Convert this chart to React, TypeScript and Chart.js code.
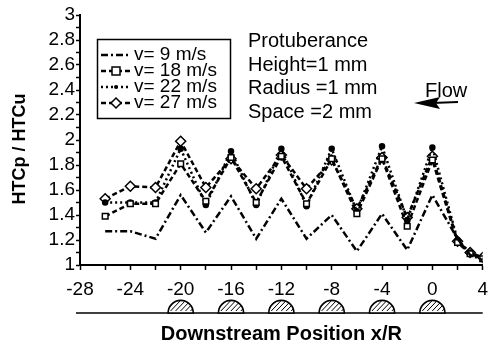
import React, { useEffect, useRef } from 'react';
import { Chart, registerables } from 'chart.js';

Chart.register(...registerables);

const FONT = '"Liberation Sans", Arial, Helvetica, sans-serif';

// Downstream positions x/R where the measurements sit
const xPositions = [-26, -24, -22, -20, -18, -16, -14, -12, -10, -8, -6, -4, -2, 0, 2, 3, 4];

// HTCp / HTCu for each velocity
const v9 = [1.27, 1.27, 1.21, 1.56, 1.26, 1.55, 1.21, 1.53, 1.21, 1.4, 1.11, 1.41, 1.12, 1.56, 1.21, 1.08, 1.04];
const v18 = [1.39, 1.49, 1.49, 1.81, 1.51, 1.86, 1.5, 1.87, 1.49, 1.85, 1.41, 1.85, 1.31, 1.84, 1.18, 1.09, 1.05];
const v22 = [1.5, 1.5, 1.5, 1.93, 1.48, 1.91, 1.48, 1.93, 1.47, 1.93, 1.43, 1.95, 1.36, 1.94, 1.2, 1.1, 1.05];
const v27 = [1.53, 1.63, 1.62, 1.99, 1.62, 1.85, 1.61, 1.88, 1.61, 1.84, 1.45, 1.86, 1.38, 1.87, 1.19, 1.1, 1.06];

const seriesLabels = ['v= 9 m/s', 'v= 18 m/s', 'v= 22 m/s', 'v= 27 m/s'];

// Protuberance centres (x/R) sketched under the axis
const protuberances = [-20, -16, -12, -8, -4, 0];

const noteLines = ['Protuberance', 'Height=1 mm', 'Radius =1 mm', 'Space =2 mm'];
const flowLabel = 'Flow';
const xTitle = 'Downstream Position x/R';
const yTitle = 'HTCp / HTCu';

function drawMarker(ctx: CanvasRenderingContext2D, style: string, r: number, x: number, y: number) {
  if (!style || r <= 0) return;
  ctx.save();
  ctx.setLineDash([]);
  ctx.lineWidth = 1.5;
  ctx.strokeStyle = '#000';
  ctx.beginPath();
  if (style === 'rect') {
    ctx.rect(x - r, y - r, 2 * r, 2 * r);
    ctx.fillStyle = '#fff';
    ctx.fill();
    ctx.stroke();
  } else if (style === 'rectRot') {
    ctx.moveTo(x, y - r);
    ctx.lineTo(x + r, y);
    ctx.lineTo(x, y + r);
    ctx.lineTo(x - r, y);
    ctx.closePath();
    ctx.fillStyle = '#fff';
    ctx.fill();
    ctx.stroke();
  } else {
    ctx.arc(x, y, r, 0, Math.PI * 2);
    ctx.fillStyle = '#000';
    ctx.fill();
  }
  ctx.restore();
}

const decor = {
  id: 'decor',
  afterDraw(chart: any) {
    const { ctx } = chart;
    const xs = chart.scales.x;
    ctx.save();

    // y-axis title
    ctx.save();
    ctx.translate(20, 149);
    ctx.rotate(-Math.PI / 2);
    ctx.font = `bold 18px ${FONT}`;
    ctx.fillStyle = '#000';
    ctx.textAlign = 'center';
    ctx.textBaseline = 'middle';
    ctx.fillText(yTitle, 0, 0);
    ctx.restore();

    // legend box
    ctx.strokeStyle = '#000';
    ctx.lineWidth = 1.5;
    ctx.setLineDash([]);
    ctx.strokeRect(97.5, 39.5, 133, 79);
    const rows = [55, 71, 87, 103];
    ctx.font = `19px ${FONT}`;
    ctx.fillStyle = '#000';
    ctx.textBaseline = 'middle';
    ctx.textAlign = 'left';
    chart.data.datasets.forEach((ds: any, i: number) => {
      const y = rows[i];
      ctx.save();
      ctx.strokeStyle = '#000';
      ctx.lineWidth = ds.borderWidth;
      ctx.setLineDash(ds.borderDash || []);
      ctx.beginPath();
      ctx.moveTo(101, y);
      ctx.lineTo(131, y);
      ctx.stroke();
      ctx.restore();
      drawMarker(ctx, ds.pointStyle, ds.pointRadius, 116, y);
      ctx.fillText(ds.label, 134, y);
    });

    // annotation
    ctx.font = `20px ${FONT}`;
    const noteY = [41, 65, 88, 112];
    noteLines.forEach((t, i) => ctx.fillText(t, 248, noteY[i]));

    // flow arrow
    ctx.fillText(flowLabel, 425, 91);
    ctx.lineWidth = 2;
    ctx.beginPath();
    ctx.moveTo(432, 103);
    ctx.lineTo(458, 102);
    ctx.stroke();
    ctx.beginPath();
    ctx.moveTo(414, 103);
    ctx.lineTo(440, 97);
    ctx.lineTo(436, 103);
    ctx.lineTo(440, 109);
    ctx.closePath();
    ctx.fill();

    // protuberance sketch
    const baseY = 313;
    ctx.lineWidth = 1.5;
    ctx.beginPath();
    ctx.moveTo(xs.left - 4, baseY);
    ctx.lineTo(xs.right, baseY);
    ctx.stroke();
    protuberances.forEach((p) => {
      const cx = xs.getPixelForValue(p);
      const r = xs.getPixelForValue(p + 1) - cx;
      ctx.save();
      ctx.beginPath();
      ctx.arc(cx, baseY, r, Math.PI, 0);
      ctx.closePath();
      ctx.fillStyle = '#fff';
      ctx.fill();
      ctx.lineWidth = 1.6;
      ctx.stroke();
      ctx.clip();
      ctx.lineWidth = 1;
      for (let k = -1.6 * r; k < 1.2 * r; k += 5) {
        ctx.beginPath();
        ctx.moveTo(cx + k, baseY - 2);
        ctx.lineTo(cx + k + r * 0.8, baseY - r);
        ctx.stroke();
      }
      ctx.restore();
    });

    ctx.restore();
  },
};

export default function App() {
  const ref = useRef<HTMLCanvasElement>(null);

  useEffect(() => {
    const canvas = ref.current;
    if (!canvas) return;
    const pts = (vals: number[]) => xPositions.map((x, i) => ({ x, y: vals[i] }));
    const chart = new Chart(canvas, {
      type: 'line',
      data: {
        datasets: [
          {
            label: seriesLabels[0],
            data: pts(v9),
            borderColor: '#000',
            borderWidth: 2.5,
            borderDash: [7, 3, 2, 3],
            pointRadius: 0,
            pointStyle: false as any,
            tension: 0,
          },
          {
            label: seriesLabels[1],
            data: pts(v18),
            borderColor: '#000',
            borderWidth: 2.5,
            borderDash: [5, 3],
            pointStyle: 'rect',
            pointRadius: 4,
            pointBackgroundColor: '#fff',
            pointBorderColor: '#000',
            pointBorderWidth: 1.5,
            tension: 0,
          },
          {
            label: seriesLabels[2],
            data: pts(v22),
            borderColor: '#000',
            borderWidth: 2.5,
            borderDash: [2, 3],
            pointStyle: 'circle',
            pointRadius: 2,
            pointBackgroundColor: '#000',
            pointBorderColor: '#000',
            tension: 0,
          },
          {
            label: seriesLabels[3],
            data: pts(v27),
            borderColor: '#000',
            borderWidth: 2.5,
            borderDash: [5, 3],
            pointStyle: 'rectRot',
            pointRadius: 5,
            pointBackgroundColor: '#fff',
            pointBorderColor: '#000',
            pointBorderWidth: 1.5,
            tension: 0,
          },
        ],
      },
      options: {
        animation: false,
        responsive: false,
        devicePixelRatio: 1,
        layout: { padding: { top: 15, right: 13, left: 0, bottom: 0 } },
        plugins: { legend: { display: false }, tooltip: { enabled: false } },
        scales: {
          x: {
            type: 'linear',
            min: -28,
            max: 4,
            ticks: {
              stepSize: 2,
              maxTicksLimit: 40,
              autoSkip: false,
              maxRotation: 0,
              padding: 8,
              color: '#000',
              font: { family: FONT, size: 19 },
              callback: (v: any) => (Number(v) % 4 === 0 ? String(v) : ''),
            },
            grid: { drawOnChartArea: false, color: '#000', tickLength: 5, tickWidth: 1.5 },
            border: { color: '#000', width: 2 },
            title: {
              display: true,
              text: xTitle,
              color: '#000',
              font: { family: FONT, size: 20, weight: 'bold' },
              padding: { top: 0, bottom: 0 },
            },
            afterFit: (s: any) => {
              s.height = 81;
            },
          },
          y: {
            min: 1,
            max: 3,
            ticks: {
              stepSize: 0.1,
              maxTicksLimit: 40,
              autoSkip: false,
              padding: 1,
              color: '#000',
              font: { family: FONT, size: 19 },
              callback: (v: any) => {
                const n = Math.round(Number(v) * 10);
                return n % 2 === 0 ? String(n / 10) : '';
              },
            },
            grid: { drawOnChartArea: false, color: '#000', tickLength: 4, tickWidth: 1.5 },
            border: { color: '#000', width: 2 },
            afterFit: (s: any) => {
              s.width = 80;
            },
          },
        },
      },
      plugins: [decor],
    });
    return () => chart.destroy();
  }, []);

  return (
    <div style={{ position: 'fixed', left: 0, top: 0, width: 496, height: 346, background: '#fff' }}>
      <canvas ref={ref} width={496} height={346} style={{ display: 'block' }} />
    </div>
  );
}
